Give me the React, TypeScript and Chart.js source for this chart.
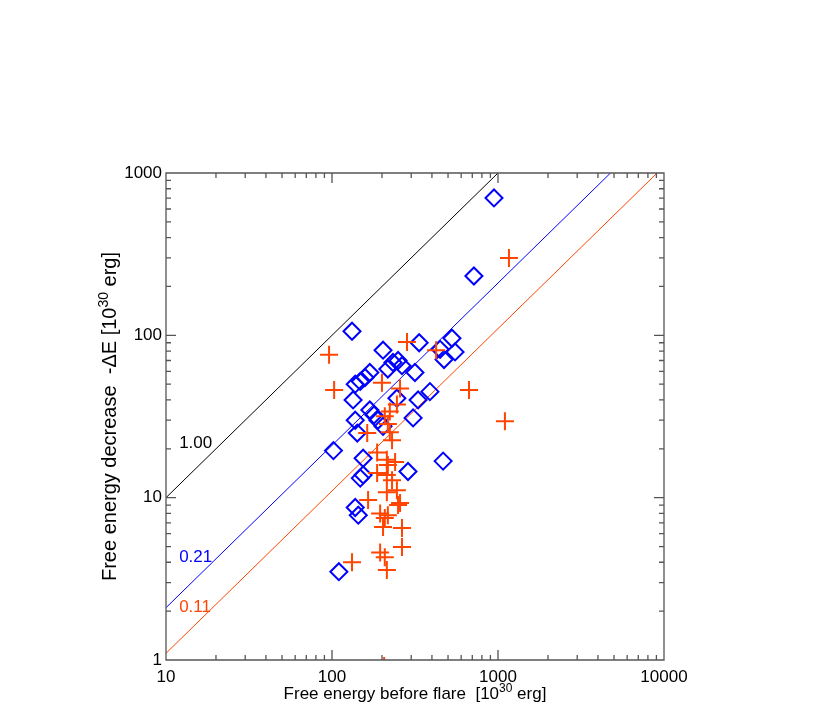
import React, { useEffect, useRef } from "react";
import { Chart, registerables } from "chart.js";

Chart.register(...registerables);

// ---- data ----
const xTickValues = [10, 100, 1000, 10000];
const yTickValues = [1, 10, 100, 1000];

// blue diamonds
const diamondX = [946, 716, 132, 203, 335, 528, 448, 551, 473, 316, 389, 330, 233, 250, 264, 217, 169, 158, 148, 138, 134, 246, 169, 179, 189, 203, 138, 142, 308, 102, 154, 154, 148, 287, 467, 138, 144, 110];
const diamondY = [702, 232, 106, 81, 90, 96, 82, 79, 71, 59, 45, 40, 68, 70, 65, 62, 59, 55, 52, 50, 40, 41, 34.7, 32.3, 30, 27.5, 30, 25, 31, 19.5, 17.5, 13.8, 13.2, 14.5, 16.8, 8.7, 7.8, 3.5];

// red-orange crosses
const plusX = [1164, 283, 424, 96, 103, 669, 1101, 200, 257, 246, 223, 208, 217, 163, 223, 230, 187, 214, 240, 217, 187, 214, 230, 214, 246, 165, 257, 195, 208, 217, 250, 264, 203, 195, 208, 264, 214, 132, 206];
const plusY = [299, 91, 81, 76, 46, 46, 29.6, 51, 47, 37.5, 34, 31.7, 28.4, 25, 25.3, 22.6, 19, 17.1, 16.6, 15.9, 14.2, 13.8, 12.8, 10.8, 11.1, 9.66, 9.27, 8.0, 7.5, 7.8, 9.0, 6.5, 6.6, 4.6, 4.3, 4.97, 3.58, 4.0, 0.92];

// ratio lines -dE = r * E
const ratioValues = [1.0, 0.21, 0.11];
const ratioLabels = ["1.00", "0.21", "0.11"];
const ratioColors = ["#000000", "#0000ff", "#ff4500"];
const ratioLabelX = [12, 12, 12];
const ratioLabelY = [21.7, 4.3, 2.12];

const xTitleParts = ["Free energy before flare  [10", "30", " erg]"];
const yTitleParts = ["Free energy decrease  -\u0394E [10", "30", " erg]"];

const BLUE = "#0000ff";
const RED = "#ff4500";
const FONT = "'Liberation Sans', Arial, Helvetica, sans-serif";

function drawSupText(
  ctx: CanvasRenderingContext2D,
  parts: string[],
  cx: number,
  baseY: number,
  size: number,
  supSize: number,
  raise: number
) {
  const mainFont = `${size}px ${FONT}`;
  const supFont = `${supSize}px ${FONT}`;
  const fonts = parts.map((_, i) => (i === 1 ? supFont : mainFont));
  const widths = parts.map((p, i) => {
    ctx.font = fonts[i];
    return ctx.measureText(p).width;
  });
  const total = widths.reduce((a, b) => a + b, 0);
  let x = cx - total / 2;
  ctx.textAlign = "left";
  ctx.textBaseline = "alphabetic";
  parts.forEach((p, i) => {
    ctx.font = fonts[i];
    ctx.fillText(p, x, i === 1 ? baseY - raise : baseY);
    x += widths[i];
  });
}

const framePlugin = {
  id: "idlFrame",
  afterDraw(chart: any) {
    const { ctx, chartArea } = chart;
    const { left, right, top, bottom } = chartArea;
    const xs = chart.scales.x;
    const ys = chart.scales.y;
    ctx.save();
    ctx.strokeStyle = "#555555";
    ctx.lineWidth = 1.3;
    ctx.beginPath();
    const eachTick = (scale: any, cb: (p: number, major: boolean) => void) => {
      const lo = Math.floor(Math.log10(scale.min) + 1e-9);
      const hi = Math.ceil(Math.log10(scale.max) - 1e-9);
      for (let e = lo; e <= hi; e++) {
        for (let m = 1; m < 10; m++) {
          const v = m * Math.pow(10, e);
          if (v < scale.min * 0.999 || v > scale.max * 1.001) continue;
          cb(scale.getPixelForValue(v), m === 1);
        }
      }
    };
    eachTick(xs, (p, major) => {
      const l = major ? 10 : 5;
      ctx.moveTo(p, bottom);
      ctx.lineTo(p, bottom - l);
      ctx.moveTo(p, top);
      ctx.lineTo(p, top + l);
    });
    eachTick(ys, (p, major) => {
      const l = major ? 10 : 5;
      ctx.moveTo(left, p);
      ctx.lineTo(left + l, p);
      ctx.moveTo(right, p);
      ctx.lineTo(right - l, p);
    });
    ctx.rect(left, top, right - left, bottom - top);
    ctx.stroke();

    // ratio labels
    ctx.font = `17px ${FONT}`;
    ctx.textAlign = "left";
    ctx.textBaseline = "middle";
    ratioLabels.forEach((t, i) => {
      ctx.fillStyle = ratioColors[i];
      ctx.fillText(t, xs.getPixelForValue(ratioLabelX[i]), ys.getPixelForValue(ratioLabelY[i]));
    });

    // axis titles
    ctx.fillStyle = "#000000";
    drawSupText(ctx, xTitleParts, (left + right) / 2, bottom + 39, 17, 12, 7);
    ctx.save();
    ctx.translate(left - 50, (top + bottom) / 2);
    ctx.rotate(-Math.PI / 2);
    drawSupText(ctx, yTitleParts, 0, 0, 20, 14, 8);
    ctx.restore();
    ctx.restore();
  },
};

export default function App() {
  const ref = useRef<HTMLCanvasElement | null>(null);

  useEffect(() => {
    if (!ref.current) return;
    const xMin = xTickValues[0];
    const xMax = xTickValues[xTickValues.length - 1];
    const yMin = yTickValues[0];
    const yMax = yTickValues[yTickValues.length - 1];

    const lineSets = ratioValues.map((r, i) => ({
      type: "line" as const,
      data: [
        { x: xMin, y: xMin * r },
        { x: yMax / r, y: yMax },
      ],
      borderColor: ratioColors[i],
      borderWidth: 1,
      pointRadius: 0,
      fill: false,
      clip: 0,
    }));

    const chart = new Chart(ref.current, {
      type: "scatter",
      data: {
        datasets: [
          {
            data: plusX.map((x, i) => ({ x, y: plusY[i] })),
            pointStyle: "cross",
            pointRadius: 9,
            borderColor: RED,
            backgroundColor: "transparent",
            borderWidth: 2,
            clip: 0,
          } as any,
          {
            data: diamondX.map((x, i) => ({ x, y: diamondY[i] })),
            pointStyle: "rectRot",
            pointRadius: 8.5,
            borderColor: BLUE,
            backgroundColor: "transparent",
            borderWidth: 2,
            clip: 0,
          } as any,
          ...lineSets,
        ],
      },
      options: {
        animation: false,
        responsive: false,
        events: [],
        layout: { padding: { top: 173, right: 166, left: 0, bottom: 0 } },
        plugins: { legend: { display: false }, tooltip: { enabled: false } },
        scales: {
          x: {
            type: "logarithmic",
            min: xMin,
            max: xMax,
            grid: { display: false, drawTicks: false },
            border: { display: false },
            afterBuildTicks: (s: any) => {
              s.ticks = xTickValues.map((v) => ({ value: v }));
            },
            afterFit: (s: any) => {
              s.height = 55;
            },
            ticks: {
              autoSkip: false,
              maxRotation: 0,
              padding: 7,
              color: "#000",
              font: { size: 17, family: FONT },
              callback: (v: any) => String(v),
            },
          },
          y: {
            type: "logarithmic",
            min: yMin,
            max: yMax,
            grid: { display: false, drawTicks: false },
            border: { display: false },
            afterBuildTicks: (s: any) => {
              s.ticks = yTickValues.map((v) => ({ value: v }));
            },
            afterFit: (s: any) => {
              s.width = 166;
            },
            ticks: {
              autoSkip: false,
              padding: 4,
              color: "#000",
              font: { size: 17, family: FONT },
              callback: (v: any) => String(v),
            },
          },
        },
      } as any,
      plugins: [framePlugin],
    });
    return () => chart.destroy();
  }, []);

  return (
    <div style={{ position: "absolute", left: 0, top: 0, width: 830, height: 715, background: "#fff" }}>
      <canvas ref={ref} width={830} height={715} style={{ display: "block" }} />
    </div>
  );
}
